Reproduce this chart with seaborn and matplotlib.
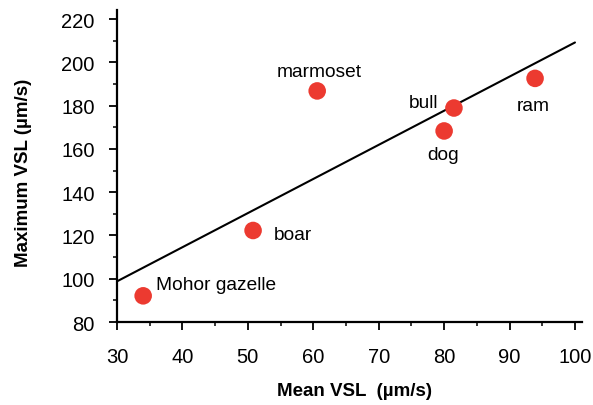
import numpy as np
import pandas as pd
import matplotlib
matplotlib.use("Agg")
import matplotlib.pyplot as plt
import seaborn as sns
from matplotlib.ticker import MultipleLocator

# donnees
species = ["Mohor gazelle", "boar", "marmoset", "dog", "bull", "ram"]
mean_vsl = [34.0, 50.8, 60.6, 80.0, 81.5, 93.9]
max_vsl = [92.1, 122.3, 186.8, 168.3, 178.9, 192.6]

df = pd.DataFrame({"species": species, "mean": mean_vsl, "max": max_vsl})

# decalage des etiquettes (points), alignement
label_pos = {
    "Mohor gazelle": (8.9, 4.8, "left"),
    "boar": (14.6, -6.3, "left"),
    "marmoset": (1.5, 10.8, "center"),
    "dog": (-0.8, -19.9, "center"),
    "bull": (-11.3, 1.0, "right"),
    "ram": (-1.6, -22.8, "center"),
}

sns.set_style("ticks")
plt.rcParams["font.family"] = ["Liberation Sans", "DejaVu Sans"]
for k in ["text.color", "axes.labelcolor", "xtick.color", "ytick.color", "axes.edgecolor"]:
    plt.rcParams[k] = "black"

fig = plt.figure(figsize=(5.93, 4.06), dpi=100)
ax = fig.add_axes([0.1973, 0.2044, 0.7841, 0.7685])

ax.set_xlim(30, 100)
ax.set_ylim(80, 224.2)

# droite de regression
sns.regplot(data=df, x="mean", y="max", scatter=False, ci=None, truncate=False,
            color="black", line_kws={"lw": 1.5}, ax=ax)

sns.scatterplot(data=df, x="mean", y="max", s=160, color="#ec3a30",
                edgecolor="none", ax=ax, zorder=3)

for _, row in df.iterrows():
    dx, dy, ha = label_pos[row["species"]]
    ax.annotate(row["species"], (row["mean"], row["max"]), xytext=(dx, dy),
                textcoords="offset points", ha=ha, va="baseline", fontsize=13.8)

ax.set_xlim(30, 101.07)

sns.despine(ax=ax)
for s in ["left", "bottom"]:
    ax.spines[s].set_linewidth(1.6)

ax.set_xticks(np.arange(30, 101, 10))
ax.set_yticks(np.arange(80, 221, 20))
ax.xaxis.set_minor_locator(MultipleLocator(5))
ax.yaxis.set_minor_locator(MultipleLocator(10))
ax.tick_params(which="major", length=6, width=1.3, labelsize=14.5)
ax.tick_params(which="minor", length=3, width=1.1)
ax.tick_params(axis="x", which="major", pad=12)
ax.tick_params(axis="y", which="major", pad=10)

ax.set_xlabel("Mean VSL  (µm/s)", fontsize=13.5, fontweight="bold", va="center")
ax.set_ylabel("Maximum VSL (µm/s)", fontsize=13.5, fontweight="bold", va="center")
ax.xaxis.set_label_coords(0.51, -0.22)
ax.yaxis.set_label_coords(-0.202, 0.482)

plt.savefig("out.png", dpi=100)
